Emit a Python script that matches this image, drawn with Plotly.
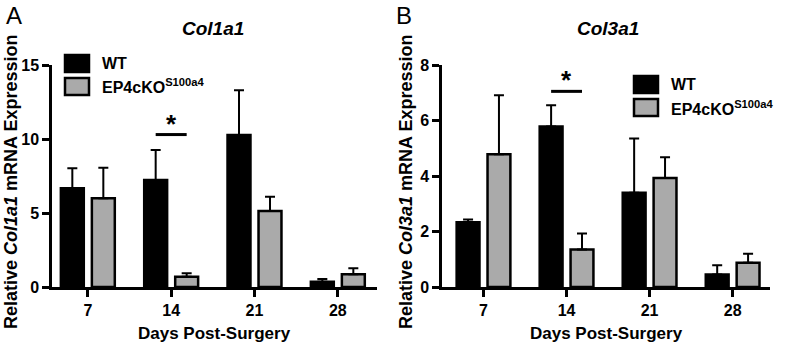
import plotly.graph_objects as go

days = ["7", "14", "21", "28"]
groups = ["WT", "EP4cKO<sup>S100a4</sup>"]

col1a1_wt = [6.67, 7.23, 10.27, 0.36]
col1a1_wt_err = [1.35, 2.03, 3.03, 0.18]
col1a1_ko = [6.0, 0.70, 5.14, 0.86]
col1a1_ko_err = [2.06, 0.23, 0.96, 0.40]

col3a1_wt = [2.33, 5.78, 3.40, 0.45]
col3a1_wt_err = [0.10, 0.77, 1.95, 0.33]
col3a1_ko = [4.78, 1.35, 3.93, 0.87]
col3a1_ko_err = [2.13, 0.58, 0.75, 0.33]

# significance: category index and bracket height
sig_a = {"index": 1, "y": 10.3}
sig_b = {"index": 1, "y": 7.05}

colors = ["#000000", "#aaaaaa"]
FONT = "Liberation Sans, Arial, sans-serif"
W, H = 787, 345

BARGAP = 0.256
BARGROUPGAP = 0.26
half = (1 - BARGAP) / 4  # offset of bar centers from category center

fig = go.Figure()


def add_panel(vals_list, errs_list, xa, ya):
    for i, (v, e) in enumerate(zip(vals_list, errs_list)):
        fig.add_trace(go.Bar(
            x=days, y=v, name=groups[i], showlegend=False,
            marker=dict(color=colors[i], line=dict(color="black", width=2.5)),
            error_y=dict(type="data", array=e, arrayminus=[0] * len(e),
                         symmetric=False, color="black", thickness=2, width=5),
            xaxis=xa, yaxis=ya,
        ))


add_panel([col1a1_wt, col1a1_ko], [col1a1_wt_err, col1a1_ko_err], "x", "y")
add_panel([col3a1_wt, col3a1_ko], [col3a1_wt_err, col3a1_ko_err], "x2", "y2")

ydom = [1 - 287 / H, 1 - 65 / H]

axis_common = dict(showline=True, linecolor="black", linewidth=2.5, ticks="outside",
                   ticklen=7, tickwidth=2.5, tickcolor="black", showgrid=False,
                   zeroline=False, automargin=False,
                   tickfont=dict(family=FONT, size=16, color="black", weight="bold"))

fig.update_layout(
    template="none",
    width=W, height=H, margin=dict(l=0, r=0, t=0, b=0, pad=0),
    plot_bgcolor="white", paper_bgcolor="white",
    barmode="group", bargap=BARGAP, bargroupgap=BARGROUPGAP,
    font=dict(family=FONT, color="black"),
    showlegend=False,
    xaxis=dict(domain=[52 / W, 377 / W], anchor="y", type="category",
               range=[-0.43, 3.47], **axis_common),
    yaxis=dict(domain=ydom, anchor="x", range=[0, 15], tickvals=[0, 5, 10, 15],
               **axis_common),
    xaxis2=dict(domain=[442 / W, 770 / W], anchor="y2", type="category",
                range=[-0.5, 3.45], **axis_common),
    yaxis2=dict(domain=ydom, anchor="x2", range=[0, 8], tickvals=[0, 2, 4, 6, 8],
                **axis_common),
)

ann = []
shapes = []


def px_x(p):
    return p / W


def px_y(p):
    return 1 - p / H


def text_ann(text, x, y, size, xanchor="center", yanchor="middle", angle=0, bold=True):
    ann.append(dict(text=text, x=px_x(x), y=px_y(y), xanchor=xanchor, yanchor=yanchor,
                    textangle=angle, showarrow=False, xref="paper", yref="paper",
                    font=dict(family=FONT, size=size, color="black",
                              weight="bold" if bold else "normal")))


# panel letters
text_ann("A", 4, 0, 24, "left", "top", bold=False)
text_ann("B", 394, 0, 24, "left", "top", bold=False)
# titles
text_ann("<i>Col1a1</i>", 213, 28, 19)
text_ann("<i>Col3a1</i>", 608, 28, 19)
# y titles
text_ann("Relative <i>Col1a1</i> mRNA Expression", 11, 182, 18, angle=-90)
text_ann("Relative <i>Col3a1</i> mRNA Expression", 406, 182, 18, angle=-90)
# x titles
text_ann("Days Post-Surgery", 214, 333, 17)
text_ann("Days Post-Surgery", 606, 333, 17)

# significance markers
for sig, xr, yr in [(sig_a, "x", "y"), (sig_b, "x2", "y2")]:
    shapes.append(dict(type="line", xref=xr, yref=yr, x0=sig["index"] - half,
                       x1=sig["index"] + half, y0=sig["y"], y1=sig["y"],
                       line=dict(color="black", width=3)))
    ann.append(dict(text="*", x=sig["index"], y=sig["y"], xref=xr, yref=yr,
                    yanchor="bottom", yshift=-6, showarrow=False,
                    font=dict(family=FONT, size=26, color="black", weight="bold")))

# legends
for lx, ly in [(65, 55), (634, 76)]:
    for i, g in enumerate(groups):
        y0 = ly + i * 23
        shapes.append(dict(type="rect", xref="paper", yref="paper",
                           x0=px_x(lx), x1=px_x(lx + 24), y0=px_y(y0), y1=px_y(y0 + 17),
                           fillcolor=colors[i], line=dict(color="black", width=2.5)))
        text_ann(g, lx + 35, y0 + 8.5, 16, "left", "middle")

fig.update_layout(annotations=ann, shapes=shapes)
fig.write_html("out.html", config={"displayModeBar": False},
               post_script="document.body.style.margin='0';")
